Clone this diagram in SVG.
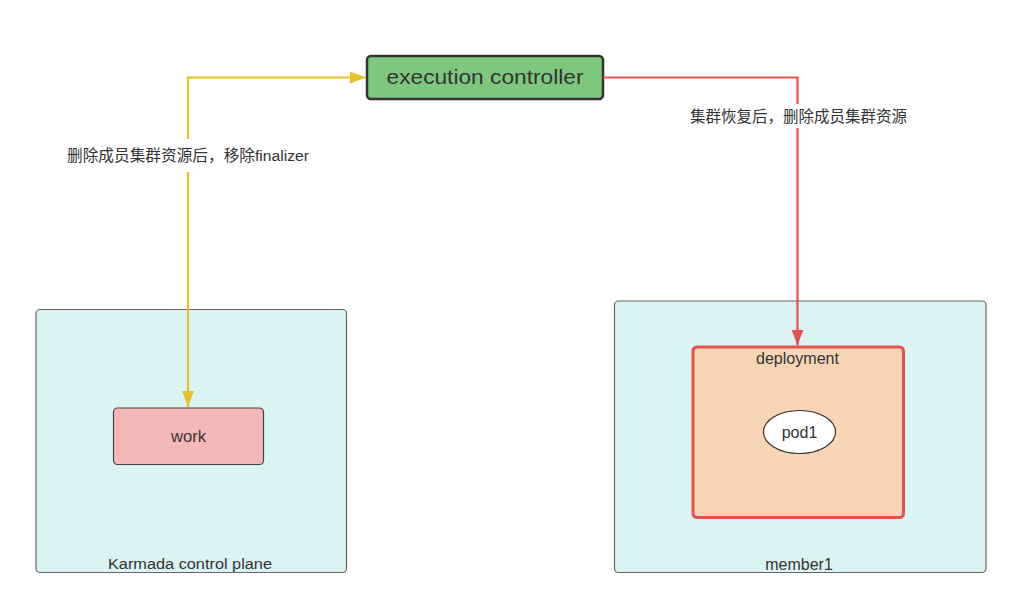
<svg xmlns="http://www.w3.org/2000/svg" width="1030" height="611" viewBox="0 0 1030 611">
<defs>
<style>
text{font-family:"Liberation Sans","Noto Sans CJK SC",sans-serif;fill:#333;text-anchor:middle}
.c{fill:#daf4f4;stroke:#666;stroke-width:1.2}
.n{font-size:16px}
.lbl{font-size:15.5px}
.bg{fill:#fff}
</style>
<marker id="ay" viewBox="0 0 16 12" refX="16" refY="6" markerWidth="16" markerHeight="12" markerUnits="userSpaceOnUse" orient="auto-start-reverse"><path d="M0,0L16,6L0,12z" fill="#e6c12b"/></marker>
<marker id="ar" viewBox="0 0 16 12" refX="16" refY="6" markerWidth="16" markerHeight="12" markerUnits="userSpaceOnUse" orient="auto"><path d="M0,0L16,6L0,12z" fill="#e8504e"/></marker>
</defs>
<rect width="1030" height="611" fill="#fff"/>
<g id="karmada">
<rect class="c" x="36" y="309.5" width="310.5" height="263" rx="4"/>
<text x="190" y="568.5" font-size="15.5" textLength="164" lengthAdjust="spacingAndGlyphs">Karmada control plane</text>
</g>
<g id="member1">
<rect class="c" x="614.5" y="301" width="371.5" height="271.5" rx="4"/>
<text class="n" x="799" y="569.5">member1</text>
</g>
<g id="work">
<rect x="113.5" y="408" width="150" height="56.5" rx="4" fill="#f4b8b6" stroke="#444" stroke-width="1.2"/>
<text class="n" x="188.5" y="441.5" textLength="35" lengthAdjust="spacingAndGlyphs">work</text>
</g>
<g id="deployment">
<rect x="693" y="347" width="210.5" height="170.5" rx="4" fill="#f8d5b5" stroke="#e8504e" stroke-width="3"/>
<text class="n" x="797.5" y="363.5" textLength="83" lengthAdjust="spacingAndGlyphs">deployment</text>
</g>
<g id="pod1">
<ellipse cx="799.5" cy="432" rx="36" ry="21.5" fill="#fff" stroke="#333" stroke-width="1.2"/>
<text class="n" x="799.5" y="437.5">pod1</text>
</g>
<g id="execution-controller">
<rect x="367" y="56" width="236" height="43" rx="4" fill="#7ec77e" stroke="#333" stroke-width="2.5"/>
<text x="485" y="84" font-size="21" textLength="197" lengthAdjust="spacingAndGlyphs">execution controller</text>
</g>
<g id="connectors" fill="none" stroke-width="2.2">
<path d="M366,77.5 L188,77.5 L188,407" stroke="#e6c12b" marker-start="url(#ay)" marker-end="url(#ay)"/>
<path d="M603,77.5 L797.5,77.5 L797.5,345.5" stroke="#e8504e" marker-end="url(#ar)"/>
<g id="labels" stroke="none">
<rect class="bg" x="64" y="139" width="248" height="33"/>
<text class="lbl" x="188" y="160.5" textLength="242" lengthAdjust="spacingAndGlyphs">删除成员集群资源后，移除finalizer</text>
<rect class="bg" x="687" y="104" width="223" height="24"/>
<text class="lbl" x="798.5" y="122" textLength="217" lengthAdjust="spacingAndGlyphs">集群恢复后，删除成员集群资源</text>
</g>
</g>
</svg>
